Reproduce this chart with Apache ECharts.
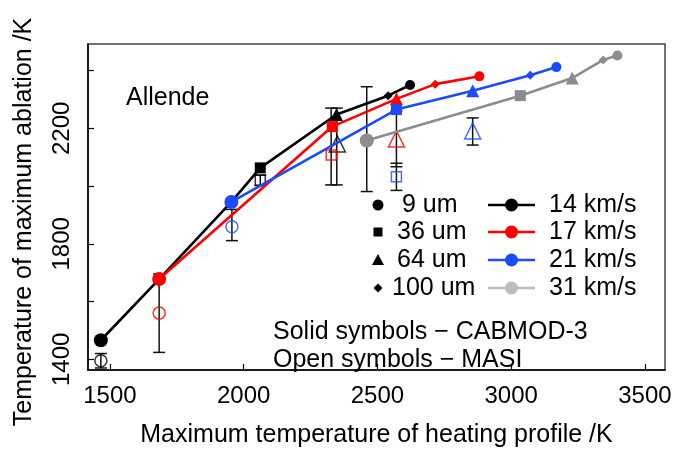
<!DOCTYPE html>
<html>
<head>
<meta charset="utf-8">
<script src="https://cdn.jsdelivr.net/npm/echarts@6/dist/echarts.min.js"></script>
<style>
  html, body { margin: 0; padding: 0; background: #fff; }
  #chart { width: 675px; height: 453px; }
</style>
</head>
<body>
<div id="chart"></div>
<script>
// solid symbols (CABMOD-3): [x, y, particle size]
const v14 = [[1466, 1466, '9 um'], [1684, 1678, 'none'], [1954, 1945, 'none'], [2062, 2063, '36 um'], [2347, 2248, '64 um'], [2540, 2313, '100 um'], [2622, 2350, 'end']]
const v17 = [[1684, 1678, '9 um'], [2331, 2206, '36 um'], [2571, 2302, '64 um'], [2716, 2353, '100 um'], [2881, 2380, 'end']]
const v21 = [[1954, 1945, '9 um'], [2571, 2265, '36 um'], [2856, 2330, '64 um'], [3071, 2384, '100 um'], [3169, 2412, 'end']]
const v31 = [[2460, 2158, '9 um'], [3034, 2313, '36 um'], [3228, 2374, '64 um'], [3344, 2437, '100 um'], [3397, 2452, 'end']]

// open symbols (MASI): [x, y, particle size, speed]
const masi = [
    [1466, 1395, '9 um', '14 km/s'], [1684, 1560, '9 um', '17 km/s'], [1956, 1859, '9 um', '21 km/s'],
    [2062, 2020, '36 um', '14 km/s'], [2350, 2146, '64 um', '14 km/s'], [2327, 2108, '36 um', '17 km/s'],
    [2460, 2158, '9 um', '31 km/s'], [2571, 2163, '64 um', '17 km/s'], [2571, 2032, '36 um', '21 km/s'],
    [2856, 2191, '64 um', '21 km/s']
]
// error bars: [x, low, high]
const errBars = [
    [1466, 1370, 1420], [1684, 1424, 1696], [1956, 1811, 1919], [2062, 2002, 2038],
    [2348, 2004, 2270], [2327, 2004, 2270], [2460, 1981, 2344], [2571, 2067, 2260],
    [2571, 1985, 2079], [2856, 2142, 2236]
]

const sizes = ['9 um', '36 um', '64 um', '100 um']
const speeds = ['14 km/s', '17 km/s', '21 km/s', '31 km/s']
const xTicks = [1500, 2000, 2500, 3000, 3500]
const yTicks = [1400, 1600, 1800, 2000, 2200, 2400]
const yLabels = [1400, 1800, 2200]

const font = 'Liberation Sans, Arial, sans-serif'
const colors = { '14 km/s': '#000000', '17 km/s': '#ff0000', '21 km/s': '#1a4bff', '31 km/s': '#8c8c8c' }
const legendColors = ['#000000', '#ff0000', '#1a4bff', '#bdbdbd']
const shapeOf = { '9 um': 'circle', '36 um': 'rect', '64 um': 'triangle', '100 um': 'diamond', end: 'circle', none: 'none' }
const sizeOf = { '9 um': 14, '36 um': 11, '64 um': 13, '100 um': 9, end: 10, none: 0 }
const openSizeOf = { '9 um': 12, '36 um': 10, '64 um': 16 }

function lineSeries(points, speed) {
    return {
        type: 'line',
        data: points.map(p => ({ value: [p[0], p[1]], symbol: shapeOf[p[2]], symbolSize: sizeOf[p[2]] })),
        showAllSymbol: true,
        lineStyle: { color: colors[speed], width: 2.6 },
        itemStyle: { color: colors[speed] },
        z: 5
    }
}

const chart = echarts.init(document.getElementById('chart'))

// legend drawn as graphics
const legendGfx = []
const rowY = [205, 232, 260, 288]
const sizeTextX = [402, 397, 397, 392]
sizes.forEach((s, i) => {
    const y = rowY[i]
    if (i === 0) legendGfx.push({ type: 'circle', shape: { cx: 378, cy: y, r: 5.5 }, style: { fill: '#000' } })
    if (i === 1) legendGfx.push({ type: 'rect', shape: { x: 373.5, y: y - 4.5, width: 9, height: 9 }, style: { fill: '#000' } })
    if (i === 2) legendGfx.push({ type: 'polygon', shape: { points: [[378, y - 6], [384, y + 5], [372, y + 5]] }, style: { fill: '#000' } })
    if (i === 3) legendGfx.push({ type: 'polygon', shape: { points: [[378, y - 4.5], [382.5, y], [378, y + 4.5], [373.5, y]] }, style: { fill: '#000' } })
    legendGfx.push({ type: 'text', x: sizeTextX[i], y: y, style: { text: s, font: '25px ' + font, fill: '#000', verticalAlign: 'middle' } })
})
speeds.forEach((s, i) => {
    const y = rowY[i]
    legendGfx.push({ type: 'line', shape: { x1: 488, y1: y, x2: 535, y2: y }, style: { stroke: legendColors[i], lineWidth: 2.6 } })
    legendGfx.push({ type: 'circle', shape: { cx: 511.5, cy: y, r: 6.5 }, style: { fill: legendColors[i] } })
    legendGfx.push({ type: 'text', x: 549, y: y, style: { text: s, font: '25px ' + font, fill: '#000', verticalAlign: 'middle' } })
})
legendGfx.push({ type: 'text', x: 126, y: 98, style: { text: 'Allende', font: '25px ' + font, fill: '#000', verticalAlign: 'middle' } })
legendGfx.push({ type: 'text', x: 273, y: 332, style: { text: 'Solid symbols \u2212 CABMOD-3', font: '25px ' + font, fill: '#000', verticalAlign: 'middle' } })
legendGfx.push({ type: 'text', x: 273, y: 360, style: { text: 'Open symbols \u2212 MASI', font: '25px ' + font, fill: '#000', verticalAlign: 'middle' } })
legendGfx.push({
    type: 'text', x: 24, y: 222, rotation: Math.PI / 2,
    style: { text: 'Temperature of maximum ablation /K', font: '25px ' + font, fill: '#000', align: 'center', verticalAlign: 'middle' }
})

const option = {
    animation: false,
    backgroundColor: '#fff',
    grid: { left: 88, right: 10, top: 44, bottom: 78, show: true, borderColor: '#444', borderWidth: 1.5 },
    xAxis: {
        type: 'value',
        min: 1418,
        max: 3575,
        name: 'Maximum temperature of heating profile /K',
        nameLocation: 'middle',
        nameGap: 53,
        nameTextStyle: { fontFamily: font, fontSize: 25, color: '#000' },
        axisLine: { lineStyle: { color: '#000', width: 1.5 } },
        axisTick: { inside: true, length: 6, customValues: xTicks, lineStyle: { color: '#000', width: 1.2 } },
        axisLabel: { customValues: xTicks, formatter: v => String(v), fontFamily: font, fontSize: 24, color: '#000', margin: 14 },
        splitLine: { show: false }
    },
    yAxis: {
        type: 'value',
        min: 1363,
        max: 2492,
        axisLine: { show: true, lineStyle: { color: '#000', width: 1.5 } },
        axisTick: { show: true, inside: true, length: 6, customValues: yTicks, lineStyle: { color: '#000', width: 1.2 } },
        axisLabel: { customValues: yLabels, formatter: v => String(v), rotate: 90, fontFamily: font, fontSize: 24, color: '#000', margin: 14 },
        splitLine: { show: false }
    },
    graphic: legendGfx,
    series: [
        {
            type: 'custom',
            data: errBars,
            encode: { x: 0, y: [1, 2] },
            z: 1,
            renderItem(params, api) {
                const x = api.value(0)
                const lo = api.coord([x, api.value(1)])
                const hi = api.coord([x, api.value(2)])
                const w = 6
                const st = { stroke: '#111', lineWidth: 1.5 }
                return {
                    type: 'group',
                    children: [
                        { type: 'line', shape: { x1: lo[0], y1: lo[1], x2: hi[0], y2: hi[1] }, style: st },
                        { type: 'line', shape: { x1: lo[0] - w, y1: lo[1], x2: lo[0] + w, y2: lo[1] }, style: st },
                        { type: 'line', shape: { x1: hi[0] - w, y1: hi[1], x2: hi[0] + w, y2: hi[1] }, style: st }
                    ]
                }
            }
        },
        {
            type: 'scatter',
            z: 2,
            data: masi.map(p => ({
                value: [p[0], p[1]],
                symbol: shapeOf[p[2]],
                symbolSize: openSizeOf[p[2]],
                itemStyle: { color: 'rgba(0,0,0,0)', borderColor: colors[p[3]], borderWidth: 1.5 }
            }))
        },
        lineSeries(v14, '14 km/s'),
        lineSeries(v17, '17 km/s'),
        lineSeries(v21, '21 km/s'),
        lineSeries(v31, '31 km/s')
    ]
}
chart.setOption(option)
</script>
</body>
</html>
